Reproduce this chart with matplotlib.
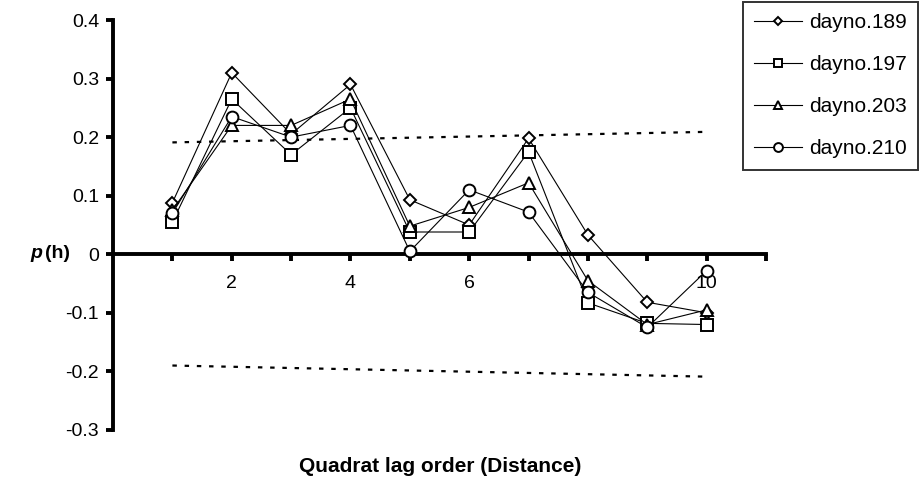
import matplotlib.pyplot as plt
import numpy as np

plt.rcParams['font.family'] = ['Liberation Sans', 'DejaVu Sans']

# lag order
lags = [1, 2, 3, 4, 5, 6, 7, 8, 9, 10]

# autocorrelation coefficient per day
day189 = [0.088, 0.31, 0.205, 0.29, 0.093, 0.05, 0.198, 0.033, -0.082, -0.10]
day197 = [0.055, 0.265, 0.17, 0.25, 0.038, 0.038, 0.175, -0.083, -0.118, -0.12]
day203 = [0.075, 0.22, 0.22, 0.265, 0.048, 0.08, 0.122, -0.045, -0.12, -0.095]
day210 = [0.07, 0.235, 0.20, 0.22, 0.005, 0.11, 0.072, -0.065, -0.125, -0.028]

# confidence bounds (start / end lag)
ci_lags = [1, 10]
ci_upper = [0.191, 0.209]
ci_lower = [-0.19, -0.209]

series = [('dayno.189', day189, 'D', 6),
          ('dayno.197', day197, 's', 8.5),
          ('dayno.203', day203, '^', 8.5),
          ('dayno.210', day210, 'o', 8.5)]

fig = plt.figure(figsize=(9.19, 4.82), dpi=100)
ax = fig.add_axes([0.123, 0.108, 0.7105, 0.8505])

for name, vals, m, ms in series:
    ax.plot(lags, vals, color='black', lw=0.8, marker=m, ms=ms,
            mfc='white', mec='black', mew=1.4, label=name, zorder=3)

ax.plot(ci_lags, ci_upper, color='black', lw=1.6, ls=(0, (2, 3.5)), zorder=2)
ax.plot(ci_lags, ci_lower, color='black', lw=1.6, ls=(0, (2, 3.5)), zorder=2)

ax.set_xlim(0, 11)
ax.set_ylim(-0.3, 0.4)

# axes styling: thick y axis, x axis through zero
ax.spines['top'].set_visible(False)
ax.spines['right'].set_visible(False)
ax.spines['left'].set_linewidth(2.8)
ax.spines['bottom'].set_position(('data', 0))
ax.spines['bottom'].set_linewidth(2.8)

ax.set_xticks(range(1, 12))
ax.set_xticklabels(['', '2', '', '4', '', '6', '', '', '', '10', ''])
ax.set_yticks([-0.3, -0.2, -0.1, 0, 0.1, 0.2, 0.3, 0.4])
ax.set_yticklabels(['-0.3', '-0.2', '-0.1', '0', '0.1', '0.2', '0.3', '0.4'])
ax.tick_params(axis='x', direction='out', length=5, width=2.8, pad=10, labelsize=14)
ax.tick_params(axis='y', direction='out', length=5, width=2.8, pad=5, labelsize=14)

fig.text(30 / 919, 1 - 254 / 482, 'p', fontsize=14, fontweight='bold',
         fontstyle='italic', va='center')
fig.text(45 / 919, 1 - 254 / 482, '(h)', fontsize=14, fontweight='bold', va='center')

fig.text(0.4785, 1 - 467 / 482, 'Quadrat lag order (Distance)',
         fontsize=15, fontweight='bold', ha='center', va='center')

leg = fig.legend(loc='upper left', bbox_to_anchor=(743 / 919, 1 - 2 / 482), fontsize=15,
                 frameon=True, fancybox=False, edgecolor='black', markerscale=0.75,
                 handlelength=2.3, handletextpad=0.3, labelspacing=1.1,
                 borderpad=0.55, borderaxespad=0)
leg.get_frame().set_linewidth(1.4)

plt.savefig('out.png', dpi=100)
